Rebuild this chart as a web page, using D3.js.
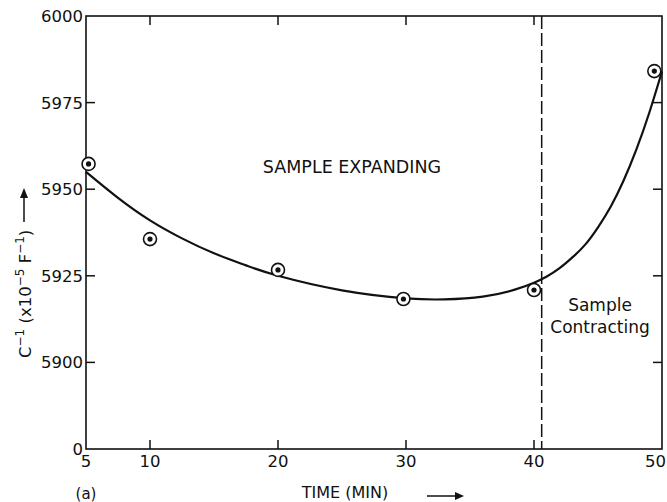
<!DOCTYPE html>
<html>
<head>
<meta charset="utf-8">
<script src="https://cdn.jsdelivr.net/npm/d3@7"></script>
<style>
  body { margin: 0; background: #fff; }
  text { font-family: "DejaVu Sans", "Liberation Sans", sans-serif; fill: #111; }
</style>
</head>
<body>
<div id="chart-area"></div>
<script>
// data
var pointTime  = [5.2, 10, 20, 29.8, 40, 49.4];
var pointValue = [5957.3, 5935.6, 5926.7, 5918.3, 5920.9, 5984.1];

// hand drawn fit curve
var curveTime  = [5, 7.5, 10, 12.5, 15, 17.5, 20, 25, 30, 33, 36, 38.5, 40, 41, 42, 43, 44, 45, 46, 47, 48, 49, 50];
var curveValue = [5955, 5947.5, 5941, 5935.8, 5931.5, 5928, 5925, 5920.8, 5918.5, 5918.2, 5919, 5921, 5923, 5924.8, 5927.2, 5930.3, 5934, 5939, 5945, 5952.5, 5961.5, 5972, 5984];

var xTicks = [5, 10, 20, 30, 40, 50];
var yTicks = [5875, 5900, 5925, 5950, 5975, 6000];
var yTickLabels = ["0", "5900", "5925", "5950", "5975", "6000"];
var boundaryTime = 40.6;

var svg_x = 667, svg_y = 502;
var margin = {left: 86, right: 5, top: 16, bottom: 53};
var width = svg_x - margin.left - margin.right;
var height = svg_y - margin.top - margin.bottom;

var svg = d3.select("#chart-area").append("svg")
  .attr("width", svg_x).attr("height", svg_y);
var g = svg.append("g")
  .attr("transform", "translate(" + margin.left + "," + margin.top + ")");

var x = d3.scaleLinear().domain([5, 50]).range([0, width]);
var y = d3.scaleLinear().domain([5875, 6000]).range([height, 0]);

//frame
g.append("rect")
  .attr("width", width).attr("height", height)
  .attr("fill", "none").attr("stroke", "#111").attr("stroke-width", 1.6);

//inner ticks on all four sides
var tickLen = 9;
var inner = xTicks.slice(1, -1);
g.selectAll(".xtb").data(inner).enter().append("line")
  .attr("x1", d => x(d)).attr("x2", d => x(d))
  .attr("y1", height).attr("y2", height - tickLen)
  .attr("stroke", "#111").attr("stroke-width", 1.5);
g.selectAll(".xtt").data(inner).enter().append("line")
  .attr("x1", d => x(d)).attr("x2", d => x(d))
  .attr("y1", 0).attr("y2", tickLen)
  .attr("stroke", "#111").attr("stroke-width", 1.5);
var innerY = yTicks.slice(1, -1);
g.selectAll(".ytl").data(innerY).enter().append("line")
  .attr("x1", 0).attr("x2", tickLen)
  .attr("y1", d => y(d)).attr("y2", d => y(d))
  .attr("stroke", "#111").attr("stroke-width", 1.5);
g.selectAll(".ytr").data(innerY).enter().append("line")
  .attr("x1", width).attr("x2", width - tickLen)
  .attr("y1", d => y(d)).attr("y2", d => y(d))
  .attr("stroke", "#111").attr("stroke-width", 1.5);

//tick labels (last one kept inside the page)
g.selectAll(".xl").data(xTicks).enter().append("text")
  .attr("x", (d, i) => i === xTicks.length - 1 ? x(d) + 4 : x(d))
  .attr("y", height + 18)
  .attr("text-anchor", (d, i) => i === xTicks.length - 1 ? "end" : "middle")
  .attr("font-size", 16.5)
  .text(d => d);
g.selectAll(".yl").data(yTicks).enter().append("text")
  .attr("x", -3).attr("y", d => y(d) + 6)
  .attr("text-anchor", "end").attr("font-size", 16.5)
  .text((d, i) => yTickLabels[i]);

//boundary dashed line
g.append("line")
  .attr("x1", x(boundaryTime)).attr("x2", x(boundaryTime))
  .attr("y1", 0).attr("y2", height)
  .attr("stroke", "#111").attr("stroke-width", 1.5)
  .attr("stroke-dasharray", "13,4");

//fit curve
var curveData = curveTime.map((t, i) => [t, curveValue[i]]);
g.append("path")
  .datum(curveData)
  .attr("fill", "none").attr("stroke", "#111").attr("stroke-width", 2.2)
  .attr("d", d3.line().x(d => x(d[0])).y(d => y(d[1])).curve(d3.curveNatural));

//points: ring + dot
var pts = pointTime.map((t, i) => ({t: t, v: pointValue[i]}));
g.selectAll(".ring").data(pts).enter().append("circle")
  .attr("cx", d => x(d.t)).attr("cy", d => y(d.v)).attr("r", 6.5)
  .attr("fill", "#fff").attr("stroke", "#111").attr("stroke-width", 1.6);
g.selectAll(".dot").data(pts).enter().append("circle")
  .attr("cx", d => x(d.t)).attr("cy", d => y(d.v)).attr("r", 2.6)
  .attr("fill", "#111");

//annotations
svg.append("text").attr("x", 352).attr("y", 173)
  .attr("text-anchor", "middle").attr("font-size", 17.5)
  .text("SAMPLE EXPANDING");
svg.append("text").attr("x", 600).attr("y", 311)
  .attr("text-anchor", "middle").attr("font-size", 17)
  .text("Sample");
svg.append("text").attr("x", 600).attr("y", 333)
  .attr("text-anchor", "middle").attr("font-size", 17)
  .text("Contracting");

//x label + arrow
svg.append("text").attr("x", 345).attr("y", 498)
  .attr("text-anchor", "middle").attr("font-size", 16)
  .text("TIME (MIN)");
svg.append("line").attr("x1", 427).attr("x2", 462).attr("y1", 496).attr("y2", 496)
  .attr("stroke", "#111").attr("stroke-width", 1.5);
svg.append("path").attr("d", "M455,492 L464,496 L455,500 Z").attr("fill", "#111");

svg.append("text").attr("x", 86).attr("y", 499)
  .attr("text-anchor", "middle").attr("font-size", 15)
  .text("(a)");

//y label + arrow
var yl = svg.append("text")
  .attr("transform", "translate(31,358) rotate(-90)")
  .attr("font-size", 16.5);
yl.append("tspan").text("C");
yl.append("tspan").attr("dy", -7).attr("font-size", 12).text("−1");
yl.append("tspan").attr("dy", 7).text(" (x10");
yl.append("tspan").attr("dy", -7).attr("font-size", 12).text("−5");
yl.append("tspan").attr("dy", 7).text(" F");
yl.append("tspan").attr("dy", -7).attr("font-size", 12).text("−1");
yl.append("tspan").attr("dy", 7).text(")");
svg.append("line").attr("x1", 24).attr("x2", 24).attr("y1", 222).attr("y2", 192)
  .attr("stroke", "#111").attr("stroke-width", 1.5);
svg.append("path").attr("d", "M20,198 L24,188 L28,198 Z").attr("fill", "#111");
</script>
</body>
</html>
